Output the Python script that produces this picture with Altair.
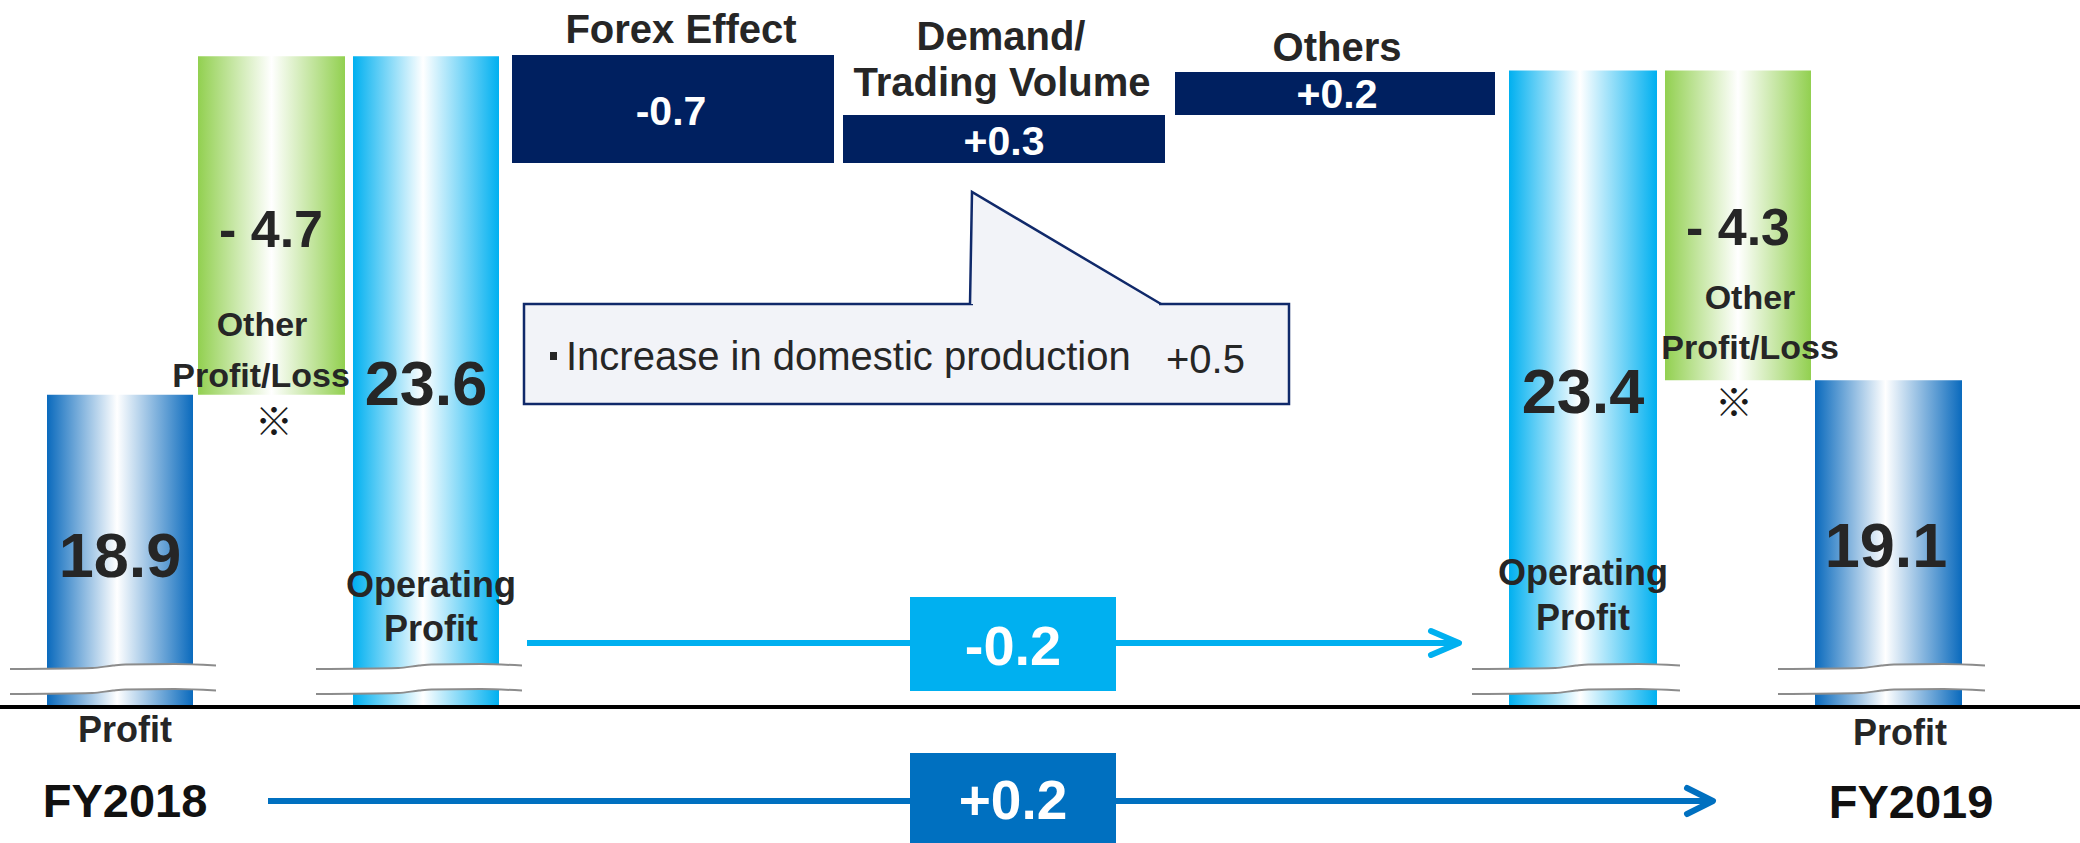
import altair as alt
import pandas as pd

W, H = 2080, 843

# ---------------- data ----------------
total_labels = ["Profit", "Operating Profit", "Operating Profit", "Profit"]
total_years = ["FY2018", "FY2018", "FY2019", "FY2019"]
total_values = [18.9, 23.6, 23.4, 19.1]
other_labels = ["Other Profit/Loss", "Other Profit/Loss"]
other_values = [-4.7, -4.3]
bridge_labels = ["Forex Effect", "Demand/Trading Volume", "Others"]
bridge_values = [-0.7, 0.3, 0.2]
change_labels = ["Operating Profit", "Profit"]
change_values = [-0.2, 0.2]
callout_labels = ["Increase in domestic production"]
callout_values = [0.5]

# ---------------- layout (pixels) ----------------
total_x0 = [47, 353, 1509, 1815]
total_x1 = [193, 499, 1657, 1962]
total_kind = ["profit", "op", "op", "profit"]
other_x0 = [198, 1665]
other_x1 = [345, 1811]
other_base = [1, 2]            # which total each "other" bar hangs from
axis_break_value = 14.566      # value at the broken baseline
V_LO, V_HI = 12.678, 24.380    # value-scale domain
bridge_x0 = [512, 843, 1175]
bridge_x1 = [834, 1165, 1495]
bridge_top = [55, 115, 72]
bridge_bot = [163, 163, 115]

DARK = "#262626"
NAVY = "#002060"
CYAN = "#00B0F0"
BLUE = "#0070C0"

X = alt.Scale(domain=[0, W], nice=False, zero=False)
YP = alt.Scale(domain=[0, H], reverse=True, nice=False, zero=False)
YV = alt.Scale(domain=[V_LO, V_HI], nice=False, zero=False)


def xq(f):
    return alt.X(f"{f}:Q", scale=X, axis=None)


def yp(f):
    return alt.Y(f"{f}:Q", scale=YP, axis=None)


def yv(f):
    return alt.Y(f"{f}:Q", scale=YV, axis=None)


def grad(edge_l, edge_r, mid):
    return alt.LinearGradient(
        gradient="linear", x1=0, x2=1, y1=0, y2=0,
        stops=[alt.GradientStop(color=edge_l, offset=0),
               alt.GradientStop(color="#FFFFFF", offset=mid),
               alt.GradientStop(color=edge_r, offset=1)])


layers = []

# ---- arrows (lines behind boxes) ----
arrow_df = pd.DataFrame({
    "x0": [527, 268], "x1": [1456, 1710], "y": [643, 801],
    "c": [CYAN, BLUE]})
layers.append(alt.Chart(arrow_df).mark_rule(strokeWidth=6).encode(
    x=xq("x0"), x2=alt.X2("x1"), y=yp("y"),
    color=alt.Color("c:N", scale=None)))

# ---- total bars ----
tot = pd.DataFrame({"label": total_labels, "year": total_years,
                    "value": total_values, "x0": total_x0, "x1": total_x1,
                    "kind": total_kind})
tot["base"] = axis_break_value
layers.append(alt.Chart(tot[tot.kind == "profit"]).mark_rect(
    fill=grad("#0A6ABD", "#0A6ABD", 0.48)).encode(
    x=xq("x0"), x2=alt.X2("x1"), y=yv("value"), y2=alt.Y2("base")))
layers.append(alt.Chart(tot[tot.kind == "op"]).mark_rect(
    fill=grad("#00B0F0", "#00B0F0", 0.48)).encode(
    x=xq("x0"), x2=alt.X2("x1"), y=yv("value"), y2=alt.Y2("base")))

# ---- other profit/loss bars ----
oth = pd.DataFrame({"label": other_labels, "value": other_values,
                    "x0": other_x0, "x1": other_x1})
oth["top"] = [total_values[i] for i in other_base]
oth["bottom"] = oth["top"] + oth["value"]
layers.append(alt.Chart(oth).mark_rect(
    fill=grad("#92D050", "#92D050", 0.5)).encode(
    x=xq("x0"), x2=alt.X2("x1"), y=yv("top"), y2=alt.Y2("bottom")))

# ---- axis-break marks ----
ts = [0, 0.4, 0.5, 0.56, 0.8, 1.0]
offs = [5, 4, 1.5, 0.5, 0, 1.5]
band_rows, line_rows = [], []
for i in range(len(total_values)):
    a, b = total_x0[i] - 37, total_x1[i] + 23
    for t, o in zip(ts, offs):
        x = a + (b - a) * t
        band_rows.append({"bar": i, "x": x, "y1": 664 + o, "y2": 689 + o})
        line_rows.append({"k": f"{i}t", "x": x, "y": 664 + o})
        line_rows.append({"k": f"{i}b", "x": x, "y": 689 + o})
layers.append(alt.Chart(pd.DataFrame(band_rows)).mark_area(
    color="white", orient="vertical", interpolate="monotone").encode(
    x=xq("x"), y=yp("y1"), y2=alt.Y2("y2"), detail="bar:N"))
layers.append(alt.Chart(pd.DataFrame(line_rows)).mark_line(
    color="#8C8C8C", strokeWidth=2, interpolate="monotone").encode(
    x=xq("x"), y=yp("y"), detail="k:N"))

# ---- baseline ----
layers.append(alt.Chart(pd.DataFrame({"x0": [0], "x1": [W], "y": [707]})).mark_rule(
    color="black", strokeWidth=4).encode(x=xq("x0"), x2=alt.X2("x1"), y=yp("y")))

# ---- bridge boxes ----
brd = pd.DataFrame({"label": bridge_labels, "value": bridge_values,
                    "x0": bridge_x0, "x1": bridge_x1,
                    "y0": bridge_top, "y1": bridge_bot})
layers.append(alt.Chart(brd).mark_rect(color=NAVY).encode(
    x=xq("x0"), x2=alt.X2("x1"), y=yp("y0"), y2=alt.Y2("y1")))

# ---- change boxes ----
chg = pd.DataFrame({"label": change_labels, "value": change_values,
                    "x0": [910, 910], "x1": [1116, 1116],
                    "y0": [597, 753], "y1": [691, 843], "c": [CYAN, BLUE]})
layers.append(alt.Chart(chg).mark_rect().encode(
    x=xq("x0"), x2=alt.X2("x1"), y=yp("y0"), y2=alt.Y2("y1"),
    color=alt.Color("c:N", scale=None)))

# ---- callout ----
CFILL = "#F2F3F8"
CSTROKE = "#10296A"
layers.append(alt.Chart(pd.DataFrame({"x0": [524], "x1": [1289], "y0": [304], "y1": [404]})).mark_rect(
    fill=CFILL, stroke=CSTROKE, strokeWidth=2.5).encode(
    x=xq("x0"), x2=alt.X2("x1"), y=yp("y0"), y2=alt.Y2("y1")))
layers.append(alt.Chart(pd.DataFrame({"x": [971, 1161], "y1": [192, 304], "y2": [304, 304]})).mark_area(
    color=CFILL, orient="vertical").encode(x=xq("x"), y=yp("y1"), y2=alt.Y2("y2")))
layers.append(alt.Chart(pd.DataFrame({"x0": [973], "x1": [1159], "y": [304]})).mark_rule(
    color=CFILL, strokeWidth=4).encode(x=xq("x0"), x2=alt.X2("x1"), y=yp("y")))
layers.append(alt.Chart(pd.DataFrame({"x": [970, 972, 1161], "y": [304, 192, 304], "o": [0, 1, 2]})).mark_line(
    color=CSTROKE, strokeWidth=2.5, strokeJoin="miter").encode(
    x=xq("x"), y=yp("y"), order="o:Q"))
layers.append(alt.Chart(pd.DataFrame({"x0": [550], "x1": [557], "y0": [352], "y1": [360]})).mark_rect(
    color=DARK).encode(x=xq("x0"), x2=alt.X2("x1"), y=yp("y0"), y2=alt.Y2("y1")))

# ---- arrow heads ----
chev = pd.DataFrame({
    "k": ["a"] * 3 + ["b"] * 3,
    "x": [1431, 1459, 1431, 1687, 1713, 1687],
    "y": [631, 643, 655, 788, 801, 814],
    "o": [0, 1, 2, 0, 1, 2],
    "c": [CYAN] * 3 + [BLUE] * 3})
layers.append(alt.Chart(chev).mark_line(strokeWidth=6, strokeCap="round", strokeJoin="round").encode(
    x=xq("x"), y=yp("y"), order="o:Q", detail="k:N",
    color=alt.Color("c:N", scale=None)))

# ---- texts ----
def fmt_signed(v):
    return f"{v:+.1f}"


def fmt_other(v):
    return f"- {abs(v):.1f}" if v < 0 else f"+ {v:.1f}"


W_ = "#FFFFFF"
bold_rows = [
    (bridge_labels[0], 681, 43, 40, DARK),
    ("Demand/", 1001, 50, 40, DARK),
    ("Trading Volume", 1002, 96, 40, DARK),
    (bridge_labels[2], 1337, 61, 40, DARK),
    (fmt_signed(bridge_values[0]).replace("+", ""), 671, 125, 41, W_),
    (fmt_signed(bridge_values[1]), 1004, 155, 41, W_),
    (fmt_signed(bridge_values[2]), 1337, 108, 41, W_),
    (f"{total_values[1]:.1f}", 426, 405, 63, DARK),
    (f"{total_values[2]:.1f}", 1583, 413, 63, DARK),
    (f"{total_values[0]:.1f}", 120, 577, 63, DARK),
    (f"{total_values[3]:.1f}", 1886, 567, 63, DARK),
    (fmt_other(other_values[0]), 271, 247, 52, DARK),
    (fmt_other(other_values[1]), 1738, 245, 52, DARK),
    ("Other", 262, 336, 34, DARK),
    ("Profit/Loss", 261, 387, 34, DARK),
    ("Other", 1750, 309, 34, DARK),
    ("Profit/Loss", 1750, 359, 34, DARK),
    ("Operating", 431, 597, 36, DARK),
    ("Profit", 431, 641, 36, DARK),
    ("Operating", 1583, 585, 36, DARK),
    ("Profit", 1583, 630, 36, DARK),
    (total_labels[0], 125, 742, 36, DARK),
    (total_labels[3], 1900, 745, 36, DARK),
    (total_years[0], 125, 817, 47, "#111111"),
    (total_years[3], 1911, 818, 47, "#111111"),
    (fmt_signed(change_values[0]).replace("+", ""), 1013, 665, 56, W_),
    (fmt_signed(change_values[1]), 1013, 819, 55, W_),
]
bold_df = pd.DataFrame(bold_rows, columns=["t", "x", "y", "s", "c"])
layers.append(alt.Chart(bold_df).mark_text(
    font="Liberation Sans", fontWeight="bold", baseline="alphabetic", align="center").encode(
    x=xq("x"), y=yp("y"), text="t:N",
    size=alt.Size("s:Q", scale=None), color=alt.Color("c:N", scale=None)))

norm_df = pd.DataFrame([
    (callout_labels[0], 566, 370, 40, DARK),
    (fmt_signed(callout_values[0]), 1166, 373, 40, DARK),
], columns=["t", "x", "y", "s", "c"])
layers.append(alt.Chart(norm_df).mark_text(
    font="Liberation Sans", baseline="alphabetic", align="left").encode(
    x=xq("x"), y=yp("y"), text="t:N",
    size=alt.Size("s:Q", scale=None), color=alt.Color("c:N", scale=None)))

mark_df = pd.DataFrame({"t": ["※", "※"], "x": [274, 1734], "y": [424, 405]})
layers.append(alt.Chart(mark_df).mark_text(
    font="Noto Sans CJK JP", fontSize=38, fontWeight="bold", baseline="middle",
    align="center", color="#1A1A1A").encode(
    x=xq("x"), y=yp("y"), text="t:N"))

chart = alt.layer(*layers).resolve_scale(y="independent").properties(
    width=W, height=H, padding=0, autosize=alt.AutoSizeParams(type="none"),
    background="white").configure_view(stroke=None)

chart.save("out.html", embed_options={"renderer": "svg", "actions": False})
